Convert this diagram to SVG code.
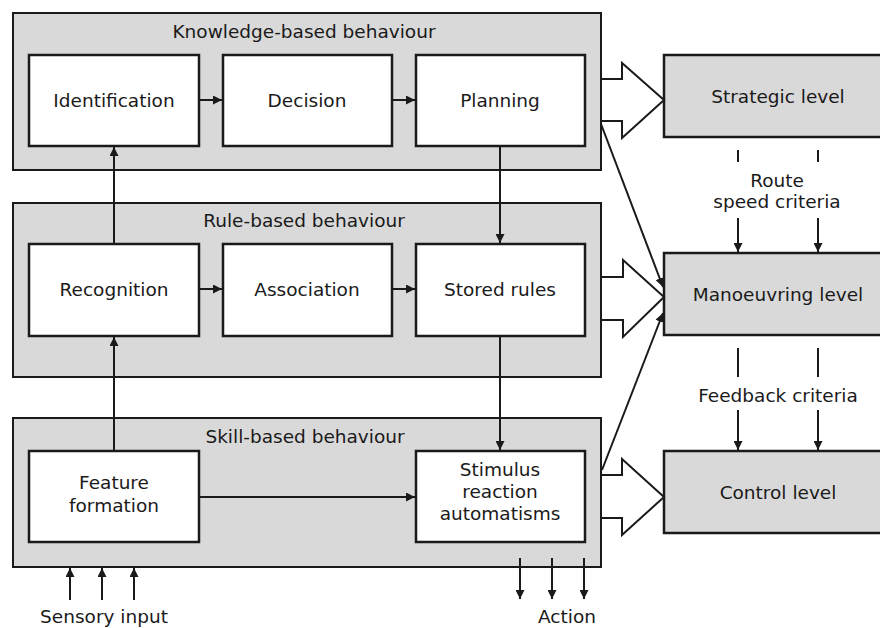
<svg xmlns="http://www.w3.org/2000/svg" width="880" height="628" viewBox="0 0 880 628">
<defs>
<style>
.cont{fill:#d9d9d9;stroke:#1a1a1a;stroke-width:2}
.box{fill:#ffffff;stroke:#1a1a1a;stroke-width:2.5}
.lvl{fill:#d9d9d9;stroke:#1a1a1a;stroke-width:2.5}
.blk{fill:#ffffff;stroke:#1a1a1a;stroke-width:2;stroke-linejoin:miter}
.ln{fill:none;stroke:#1a1a1a;stroke-width:2}
text{font-family:"DejaVu Sans",Verdana,sans-serif;font-size:18.5px;fill:#1a1a1a;text-anchor:middle}
</style>
<marker id="ah" viewBox="0 0 10 10" refX="10" refY="5" markerWidth="4.5" markerHeight="4.5" orient="auto" markerUnits="strokeWidth">
<path d="M0,0 L10,5 L0,10 z" fill="#1a1a1a"/>
</marker>
</defs>
<rect width="880" height="628" fill="#ffffff"/>

<g id="knowledge-based">
<rect class="cont" x="13" y="13" width="588" height="157"/>
<text x="304" y="38">Knowledge-based behaviour</text>
</g>
<g id="rule-based">
<rect class="cont" x="13" y="203" width="588" height="174"/>
<text x="304" y="227">Rule-based behaviour</text>
</g>
<g id="skill-based">
<rect class="cont" x="13" y="418" width="588" height="149"/>
<text x="305" y="443">Skill-based behaviour</text>
</g>

<g id="identification"><rect class="box" x="29" y="55" width="170" height="91"/><text x="114" y="107">Identification</text></g>
<g id="decision"><rect class="box" x="223" y="55" width="169" height="91"/><text x="307" y="107">Decision</text></g>
<g id="planning"><rect class="box" x="416" y="55" width="169" height="91"/><text x="500" y="107">Planning</text></g>

<g id="recognition"><rect class="box" x="29" y="244" width="170" height="92"/><text x="114" y="296">Recognition</text></g>
<g id="association"><rect class="box" x="223" y="244" width="169" height="92"/><text x="307" y="296">Association</text></g>
<g id="stored-rules"><rect class="box" x="416" y="244" width="169" height="92"/><text x="500" y="296">Stored rules</text></g>

<g id="feature-formation"><rect class="box" x="29" y="451" width="170" height="91"/><text x="114" y="489">Feature</text><text x="114" y="512">formation</text></g>
<g id="stimulus"><rect class="box" x="416" y="451" width="169" height="91"/><text x="500" y="476">Stimulus</text><text x="500" y="498">reaction</text><text x="500" y="520">automatisms</text></g>

<g id="strategic-level"><rect class="lvl" x="664" y="55" width="230" height="82"/><text x="778" y="103">Strategic level</text></g>
<g id="manoeuvring-level"><rect class="lvl" x="664" y="253" width="230" height="82"/><text x="778" y="301">Manoeuvring level</text></g>
<g id="control-level"><rect class="lvl" x="664" y="451" width="230" height="82"/><text x="778" y="499">Control level</text></g>

<g id="connectors">
<line class="ln" x1="199" y1="100" x2="222" y2="100" marker-end="url(#ah)"/>
<line class="ln" x1="392" y1="100" x2="415" y2="100" marker-end="url(#ah)"/>
<line class="ln" x1="199" y1="289" x2="222" y2="289" marker-end="url(#ah)"/>
<line class="ln" x1="392" y1="289" x2="415" y2="289" marker-end="url(#ah)"/>
<line class="ln" x1="199" y1="497" x2="415" y2="497" marker-end="url(#ah)"/>
<line class="ln" x1="114" y1="244" x2="114" y2="147" marker-end="url(#ah)"/>
<line class="ln" x1="114" y1="451" x2="114" y2="337" marker-end="url(#ah)"/>
<line class="ln" x1="500" y1="146" x2="500" y2="243" marker-end="url(#ah)"/>
<line class="ln" x1="500" y1="336" x2="500" y2="450" marker-end="url(#ah)"/>

<polygon class="blk" points="601,79 622,79 622,63 664,100 622,138 622,121 601,121"/>
<polygon class="blk" points="601,277 623,277 623,260 664,297 623,337 623,320 601,320"/>
<polygon class="blk" points="601,475 622,475 622,459 664,497 622,535 622,518 601,518"/>

<line class="ln" x1="601" y1="124" x2="663" y2="287" marker-end="url(#ah)"/>
<line class="ln" x1="602" y1="470" x2="663" y2="313" marker-end="url(#ah)"/>

<line class="ln" x1="738" y1="150" x2="738" y2="162"/>
<line class="ln" x1="818" y1="150" x2="818" y2="162"/>
<line class="ln" x1="738" y1="218" x2="738" y2="252" marker-end="url(#ah)"/>
<line class="ln" x1="818" y1="218" x2="818" y2="252" marker-end="url(#ah)"/>
<line class="ln" x1="738" y1="348" x2="738" y2="377"/>
<line class="ln" x1="818" y1="348" x2="818" y2="377"/>
<line class="ln" x1="738" y1="410" x2="738" y2="450" marker-end="url(#ah)"/>
<line class="ln" x1="818" y1="410" x2="818" y2="450" marker-end="url(#ah)"/>

<line class="ln" x1="70" y1="600" x2="70" y2="568" marker-end="url(#ah)"/>
<line class="ln" x1="102" y1="600" x2="102" y2="568" marker-end="url(#ah)"/>
<line class="ln" x1="134" y1="600" x2="134" y2="568" marker-end="url(#ah)"/>
<line class="ln" x1="520" y1="558" x2="520" y2="599" marker-end="url(#ah)"/>
<line class="ln" x1="552" y1="558" x2="552" y2="599" marker-end="url(#ah)"/>
<line class="ln" x1="584" y1="558" x2="584" y2="599" marker-end="url(#ah)"/>
</g>

<g id="labels">
<text x="777" y="187">Route</text>
<text x="777" y="208">speed criteria</text>
<text x="778" y="402">Feedback criteria</text>
<text x="104" y="623">Sensory input</text>
<text x="567" y="623">Action</text>
</g>
</svg>
